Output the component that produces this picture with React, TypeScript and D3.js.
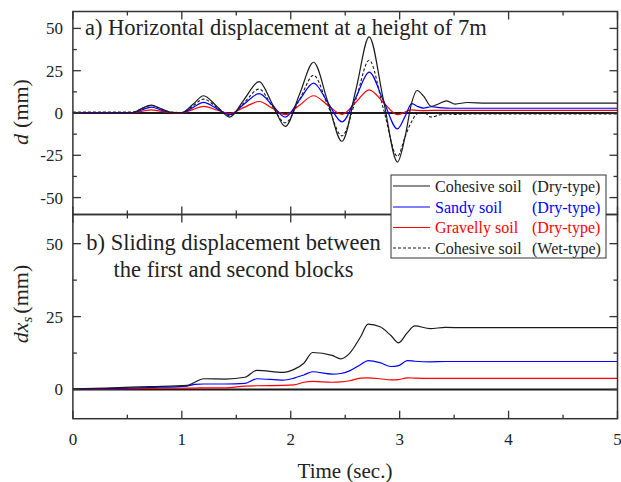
import React from "react";
import * as d3 from "d3";

// ---------- Panel a: horizontal displacement at 7 m (mm) ----------
const timeA = [0, 0.3, 0.55, 0.63, 0.72, 0.8, 0.9, 1.0, 1.1, 1.2, 1.32, 1.44, 1.57, 1.71, 1.83, 1.95, 2.08, 2.21, 2.34, 2.47, 2.6, 2.72, 2.85, 2.98, 3.05, 3.11, 3.16, 3.22, 3.29, 3.36, 3.43, 3.51, 3.62, 3.8, 4.2, 5.0];
const cohesiveDryA = [0, 0, 0.2, 2.6, 4.7, 2.8, 0.4, 0.3, 5, 10.2, 4, -2.4, 7.8, 18.6, 5.5, -7.9, 11, 30, 6.7, -16.7, 14.2, 45, 8, -29, -14, 6, 13.3, 10, 3.9, 5.5, 7.2, 5.3, 6.2, 5.8, 5.8, 5.8];
const sandyDryA = [0, 0, 0.1, 1.8, 3.5, 2, 0.3, 0.2, 3.2, 6.3, 2.6, -1, 5.2, 11.4, 4.7, -2.4, 7.8, 17.7, 6.2, -5.2, 9.5, 24.2, 7.4, -9.4, -2, 5.5, 4, 2.9, 3.7, 3.2, 2.9, 2.8, 2.8, 2.8, 2.8, 2.8];
const gravellyDryA = [0, 0, 0.1, 1, 1.9, 1.1, 0.2, 0.1, 2, 3.9, 1.8, -0.3, 3.3, 6.8, 2.9, -1, 4.6, 10.2, 4.6, -0.8, 6.5, 13.7, 6.3, -1, 0.6, 1.9, 1.6, 1.4, 1.5, 1.5, 1.5, 1.5, 1.5, 1.5, 1.5, 1.5];
const cohesiveWetA = [0.5, 0.5, 0.6, 2.5, 4.4, 2.8, 0.5, 0.3, 4, 8.2, 3.4, -1.5, 6, 14.1, 4, -5.8, 7.8, 22.3, 4.5, -13.5, 8.5, 31.2, 2.7, -25.6, -14, -5, -0.5, 0.4, -2.4, -1.2, -0.5, -0.8, -0.6, -0.5, -0.5, -0.5];

// ---------- Panel b: sliding displacement dx_s (mm) ----------
const timeB = [0, 0.3, 0.7, 1.05, 1.12, 1.2, 1.4, 1.58, 1.69, 1.93, 2.03, 2.12, 2.2, 2.38, 2.46, 2.54, 2.64, 2.71, 2.82, 2.92, 2.99, 3.07, 3.14, 3.28, 3.42, 3.6, 5.0];
const cohesiveDryB = [0.2, 0.5, 1, 1.4, 2.5, 3.7, 3.6, 4.2, 6.6, 5.9, 6.9, 9, 12.7, 11.7, 10.5, 12.4, 18, 22.4, 21.5, 18.5, 16, 19.5, 21.8, 20.9, 21.3, 21.2, 21.2];
const sandyDryB = [0.1, 0.3, 0.7, 1.2, 1.8, 1.9, 1.9, 2.1, 3.7, 3.2, 3.9, 5, 6.1, 5.3, 5.5, 6.4, 8.5, 9.9, 9.2, 7.9, 8.2, 9.9, 9.7, 9.5, 9.6, 9.6, 9.6];
const gravellyDryB = [0.1, 0.2, 0.4, 0.5, 0.5, 0.6, 0.6, 1.2, 1.3, 1.4, 1.6, 2.5, 2.8, 2.5, 2.6, 3.0, 3.9, 4.0, 3.7, 3.3, 3.4, 4.0, 3.9, 3.8, 3.8, 3.8, 3.8];

// ---------- Axes ----------
const xMajor = [0, 1, 2, 3, 4, 5];
const xMinor = [0.5, 1.5, 2.5, 3.5, 4.5];
const yMajorA = [-50, -25, 0, 25, 50];
const yMinorA = [-37.5, -12.5, 12.5, 37.5];
const yMajorB = [0, 25, 50];
const yMinorB = [12.5, 37.5];

const legendSoils = ["Cohesive soil", "Sandy soil", "Gravelly soil", "Cohesive soil"];
const legendTypes = ["(Dry-type)", "(Dry-type)", "(Dry-type)", "(Wet-type)"];

const BLACK = "#1a1a1a";
const BLUE = "#0000ff";
const RED = "#ff0000";
const FRAME = "#333";
const FONT = "'Liberation Serif', 'Times New Roman', serif";

const W = 621;
const H = 482;
const L = 72.9;
const R = 617.5;
const TOP_A = 11.5;
const MID = 214.5;
const BOT_B = 418.7;

export default function App() {
  const x = d3.scaleLinear().domain([0, 5]).range([L, R]);
  const yA = d3.scaleLinear().domain([-60, 60]).range([MID, TOP_A]);
  const yB = d3.scaleLinear().domain([-10, 60]).range([BOT_B, MID]);

  const lineA = (vals: number[]) =>
    d3
      .line<number>()
      .x((_, i) => x(timeA[i]))
      .y((v) => yA(v))
      .curve(d3.curveMonotoneX)(vals) || "";
  const lineB = (vals: number[]) =>
    d3
      .line<number>()
      .x((_, i) => x(timeB[i]))
      .y((v) => yB(v))
      .curve(d3.curveMonotoneX)(vals) || "";

  const MAJ = 8;
  const MIN = 4;

  const ticks: React.ReactNode[] = [];
  // x ticks on all horizontal borders
  const hBorders = [
    { y: TOP_A, dir: 1 },
    { y: MID, dir: -1 },
    { y: MID, dir: 1 },
    { y: BOT_B, dir: -1 },
  ];
  hBorders.forEach((b, bi) => {
    xMajor.forEach((t) =>
      ticks.push(
        <line key={`xM${bi}-${t}`} x1={x(t)} x2={x(t)} y1={b.y} y2={b.y + b.dir * MAJ} stroke={FRAME} strokeWidth={1.3} />
      )
    );
    xMinor.forEach((t) =>
      ticks.push(
        <line key={`xm${bi}-${t}`} x1={x(t)} x2={x(t)} y1={b.y} y2={b.y + b.dir * MIN} stroke={FRAME} strokeWidth={1.3} />
      )
    );
  });
  const vTicks = (scale: d3.ScaleLinear<number, number>, maj: number[], min: number[], key: string) => {
    [L, R].forEach((xx, si) => {
      const dir = si === 0 ? 1 : -1;
      maj.forEach((v) =>
        ticks.push(
          <line key={`${key}M${si}-${v}`} x1={xx} x2={xx + dir * MAJ} y1={scale(v)} y2={scale(v)} stroke={FRAME} strokeWidth={1.3} />
        )
      );
      min.forEach((v) =>
        ticks.push(
          <line key={`${key}m${si}-${v}`} x1={xx} x2={xx + dir * MIN} y1={scale(v)} y2={scale(v)} stroke={FRAME} strokeWidth={1.3} />
        )
      );
    });
  };
  vTicks(yA, yMajorA, yMinorA, "a");
  vTicks(yB, yMajorB, yMinorB, "b");

  const legendColors = [BLACK, BLUE, RED, BLACK];
  const legendDash = [undefined, undefined, undefined, "3,2"];
  const legX = 391;
  const legY = 175;
  const legW = 215;
  const legH = 83;
  const rowY = [186, 207, 227.5, 248];

  return (
    <svg
      width={W}
      height={H}
      viewBox={`0 0 ${W} ${H}`}
      style={{ position: "absolute", left: 0, top: 0, background: "#fff" }}
      fontFamily={FONT}
    >
      <defs>
        <clipPath id="clipA">
          <rect x={L} y={TOP_A} width={R - L} height={MID - TOP_A} />
        </clipPath>
        <clipPath id="clipB">
          <rect x={L} y={MID} width={R - L} height={BOT_B - MID} />
        </clipPath>
      </defs>
      <rect x={0} y={0} width={W} height={H} fill="#fff" />

      {/* Panel a */}
      <g clipPath="url(#clipA)">
        <line x1={L} x2={R} y1={yA(0)} y2={yA(0)} stroke={BLACK} strokeWidth={2} />
        <path d={lineA(cohesiveWetA)} fill="none" stroke={BLACK} strokeWidth={1.1} strokeDasharray="3,2" />
        <path d={lineA(gravellyDryA)} fill="none" stroke={RED} strokeWidth={1.2} />
        <path d={lineA(sandyDryA)} fill="none" stroke={BLUE} strokeWidth={1.2} />
        <path d={lineA(cohesiveDryA)} fill="none" stroke={BLACK} strokeWidth={1.2} />
      </g>

      {/* Panel b */}
      <g clipPath="url(#clipB)">
        <line x1={L} x2={R} y1={yB(0)} y2={yB(0)} stroke={BLACK} strokeWidth={2} />
        <path d={lineB(gravellyDryB)} fill="none" stroke={RED} strokeWidth={1.2} />
        <path d={lineB(sandyDryB)} fill="none" stroke={BLUE} strokeWidth={1.2} />
        <path d={lineB(cohesiveDryB)} fill="none" stroke={BLACK} strokeWidth={1.2} />
      </g>

      {ticks}

      {/* frames */}
      <rect x={L} y={TOP_A} width={R - L} height={MID - TOP_A} fill="none" stroke={FRAME} strokeWidth={1.5} />
      <rect x={L} y={MID} width={R - L} height={BOT_B - MID} fill="none" stroke={FRAME} strokeWidth={1.5} />

      {/* y tick labels */}
      {yMajorA.map((v) => (
        <text key={`la${v}`} x={L - 10} y={yA(v)} dy="0.35em" textAnchor="end" fontSize={17} fill="#222">
          {v}
        </text>
      ))}
      {yMajorB.map((v) => (
        <text key={`lb${v}`} x={L - 10} y={yB(v)} dy="0.35em" textAnchor="end" fontSize={17} fill="#222">
          {v}
        </text>
      ))}
      {/* x tick labels */}
      {xMajor.map((t) => (
        <text key={`lx${t}`} x={x(t)} y={445} textAnchor="middle" fontSize={17} fill="#222">
          {t}
        </text>
      ))}

      {/* axis titles */}
      <text x={345} y={478} textAnchor="middle" fontSize={21} fill="#222">
        Time (sec.)
      </text>
      <text transform="translate(28,112) rotate(-90)" textAnchor="middle" fontSize={22} fill="#222">
        <tspan fontStyle="italic">d</tspan>
        <tspan dx={6}>(mm)</tspan>
      </text>
      <text transform="translate(28,304) rotate(-90)" textAnchor="middle" fontSize={22} fill="#222">
        <tspan fontStyle="italic">dx</tspan>
        <tspan fontStyle="italic" fontSize={15} dy={4}>s</tspan>
        <tspan dy={-4} dx={3}>(mm)</tspan>
      </text>

      {/* panel titles */}
      <text x={85} y={35} fontSize={22.5} fill="#222">
        a) Horizontal displacement at a height of 7m
      </text>
      <text x={233.5} y={250} textAnchor="middle" fontSize={22.5} fill="#222">
        b) Sliding displacement between
      </text>
      <text x={233.5} y={277} textAnchor="middle" fontSize={22.5} fill="#222">
        the first and second blocks
      </text>

      {/* legend */}
      <rect x={legX} y={legY} width={legW} height={legH} fill="#fff" stroke={FRAME} strokeWidth={1} />
      {legendSoils.map((s, i) => (
        <g key={`leg${i}`}>
          <line x1={393} x2={430} y1={rowY[i]} y2={rowY[i]} stroke={legendColors[i]} strokeWidth={1.2} strokeDasharray={legendDash[i]} />
          <text x={435} y={rowY[i] + 5.5} fontSize={16} fill={legendColors[i] === BLACK ? "#222" : legendColors[i]}>
            {s}
          </text>
          <text x={532} y={rowY[i] + 5.5} fontSize={16} fill={legendColors[i] === BLACK ? "#222" : legendColors[i]}>
            {legendTypes[i]}
          </text>
        </g>
      ))}
    </svg>
  );
}
